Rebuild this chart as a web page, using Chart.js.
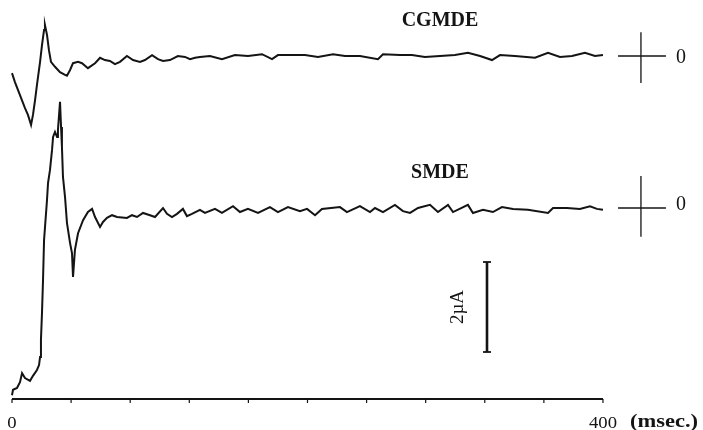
<!DOCTYPE html>
<html>
<head>
<meta charset="utf-8">
<title>CGMDE / SMDE current transients</title>
<script src="https://cdn.jsdelivr.net/npm/chart.js@4.4.1/dist/chart.umd.min.js"></script>
<style>
  html, body { margin: 0; padding: 0; background: #ffffff; }
  #wrap { width: 703px; height: 430px; }
</style>
</head>
<body>
<div id="wrap"><canvas id="c" width="703" height="430"></canvas></div>
<script>
// Time base (ms) and current (µA) of the CGMDE transient
const cgmdeTime = [0, 2.0, 5.4, 8.8, 10.8, 12.9, 14.2, 15.6, 16.9, 19.0, 20.3, 21.7, 22.3, 23.7, 25.0, 26.4,
  29.1, 32.5, 35.9, 37.2, 39.3, 41.3, 44.7, 47.4, 51.4, 56.2, 59.6, 62.9, 66.3, 69.7, 73.1, 77.8, 81.9,
  86.6, 90.0, 94.8, 98.8, 102.2, 106.9, 112.3, 117.1, 120.5, 123.9, 127.2, 134.0, 142.1, 150.9, 159.7,
  169.2, 176.0, 180.0, 188.2, 198.3, 207.1, 217.3, 225.4, 235.5, 247.7, 251.1, 262.6, 270.7, 279.5,
  289.7, 299.8, 308.6, 316.8, 324.9, 330.3, 340.4, 354.0, 362.8, 370.9, 379.0, 387.8, 394.6, 400.0];
const cgmdeCurrent = [-0.38, -0.58, -0.87, -1.16, -1.31, -1.53, -1.31, -0.98, -0.64, -0.13, 0.24, 0.58, 0.69, 0.47, 0.13, -0.13,
  -0.24, -0.36, -0.42, -0.44, -0.31, -0.16, -0.13, -0.16, -0.27, -0.16, -0.04, -0.09, -0.11, -0.18, -0.13, 0.00, -0.09,
  -0.13, -0.09, 0.02, -0.07, -0.11, -0.09, 0.00, -0.02, -0.07, -0.04, -0.02, 0.00, -0.07, 0.02, 0.00,
  0.04, -0.07, 0.02, 0.02, 0.02, -0.02, 0.04, 0.00, 0.00, -0.07, 0.04, 0.02, 0.02, -0.02,
  0.00, 0.02, 0.07, 0.00, -0.09, 0.02, 0.00, -0.04, 0.07, -0.02, 0.00, 0.07, 0.00, 0.02];

// Time base (ms) and current (µA) of the SMDE transient
const smdeTime = [0, 0.7, 3.4, 5.4, 6.8, 8.8, 12.2, 14.2, 16.9, 18.3, 19.0, 19.6, 20.3, 21.0, 21.7, 23.7,
  24.4, 25.7, 27.1, 27.8, 29.1, 30.5, 31.1, 32.5, 33.2, 33.8, 34.5, 35.9, 37.2, 39.3, 40.6, 41.3, 42.6,
  44.7, 48.1, 51.4, 54.2, 56.2, 59.6, 61.6, 64.3, 67.7, 71.1, 77.8, 81.2, 84.6, 88.7, 93.4, 96.8, 102.2,
  104.9, 108.3, 111.7, 115.7, 118.4, 121.8, 127.2, 130.6, 137.4, 142.1, 149.6, 154.3, 159.7, 166.5,
  174.6, 180.0, 186.8, 194.9, 199.7, 205.1, 209.8, 222.0, 226.7, 235.5, 242.3, 245.7, 251.1, 259.2,
  264.6, 269.4, 274.8, 282.9, 288.3, 295.1, 298.5, 308.6, 312.0, 318.8, 325.5, 331.6, 339.1, 349.2,
  362.8, 366.2, 375.6, 384.4, 391.2, 395.9, 400.0];
const smdeCurrent = [-4.16, -4.04, -4.00, -3.87, -3.67, -3.78, -3.84, -3.73, -3.60, -3.49, -3.31, -2.93, -2.33, -1.60, -0.71, 0.18,
  0.56, 0.84, 1.29, 1.58, 1.69, 1.58, 1.73, 2.36, 1.80, 1.36, 0.69, 0.24, -0.33, -0.78, -1.00, -1.53, -0.93,
  -0.56, -0.27, -0.09, -0.02, -0.20, -0.42, -0.31, -0.22, -0.16, -0.20, -0.22, -0.16, -0.20, -0.11, -0.16, -0.20, 0.00,
  -0.13, -0.20, -0.13, -0.02, -0.18, -0.13, -0.04, -0.11, -0.02, -0.11, 0.04, -0.09, -0.02, -0.11,
  0.02, -0.09, 0.02, -0.07, -0.02, -0.16, -0.02, 0.02, -0.09, 0.04, -0.09, 0.00, -0.09, 0.07,
  -0.07, -0.11, 0.00, 0.07, -0.09, 0.07, -0.09, 0.07, -0.11, -0.04, -0.09, 0.02, -0.02, -0.04,
  -0.11, 0.00, 0.00, -0.02, 0.04, -0.02, -0.04];

// Time axis ticks (ms): marks every 40 ms, labels at the ends
const tickTimes = [0, 40, 80, 120, 160, 200, 240, 280, 320, 360, 400];
const tickLabels = ['0', '', '', '', '', '', '', '', '', '', '400'];

// Zero-current reference crosses, one per trace
const crossTime = [410.2, 425.7, 442.6];      // left end, centre, right end (ms)
const cgmdeCrossSpan = [0.53, -0.60];          // µA
const smdeCrossSpan = [0.71, -0.64];           // µA

// 2 µA calibration bar (drawn on the SMDE current scale)
const barTime = 321.5;
const barRange = [-1.2, -3.2];
const barCapHalf = 2.7;                        // ms

const INK = '#141414';
const pts = (xs, ys) => xs.map((x, i) => ({ x: x, y: ys[i] }));
const seg = (x0, y0, x1, y1) => [{ x: x0, y: y0 }, { x: x1, y: y1 }];

const lineSet = (data, axis, width) => ({
  data: data, yAxisID: axis, borderColor: INK, borderWidth: width,
  pointRadius: 0, tension: 0, fill: false, clip: false
});

const datasets = [
  lineSet(pts(cgmdeTime, cgmdeCurrent), 'yC', 2.0),
  lineSet(pts(smdeTime, smdeCurrent), 'yS', 2.0),
  lineSet(seg(crossTime[0], 0, crossTime[2], 0), 'yC', 1.3),
  lineSet(seg(crossTime[1], cgmdeCrossSpan[0], crossTime[1], cgmdeCrossSpan[1]), 'yC', 1.3),
  lineSet(seg(crossTime[0], 0, crossTime[2], 0), 'yS', 1.3),
  lineSet(seg(crossTime[1], smdeCrossSpan[0], crossTime[1], smdeCrossSpan[1]), 'yS', 1.3),
  lineSet(seg(barTime, barRange[0], barTime, barRange[1]), 'yS', 2.6),
  lineSet(seg(barTime - barCapHalf, barRange[0], barTime + barCapHalf, barRange[0]), 'yS', 1.8),
  lineSet(seg(barTime - barCapHalf, barRange[1], barTime + barCapHalf, barRange[1]), 'yS', 1.8)
];

function drawText(ctx, text, x, y, font, align, sx) {
  ctx.save();
  ctx.font = font;
  ctx.fillStyle = INK;
  ctx.textAlign = align;
  ctx.textBaseline = 'alphabetic';
  ctx.translate(x, y);
  ctx.scale(sx || 1, 1);
  ctx.fillText(text, 0, 0);
  ctx.restore();
}

// Time axis, trace names, zero marks and calibration label
const annotations = {
  id: 'annotations',
  afterDatasetsDraw(chart) {
    const ctx = chart.ctx;
    const xs = chart.scales.x, yC = chart.scales.yC, yS = chart.scales.yS;
    const axisY = 399;
    ctx.save();
    ctx.strokeStyle = INK;
    ctx.lineWidth = 2;
    ctx.beginPath();
    ctx.moveTo(xs.getPixelForValue(tickTimes[0]), axisY);
    ctx.lineTo(xs.getPixelForValue(tickTimes[tickTimes.length - 1]), axisY);
    ctx.stroke();
    ctx.lineWidth = 1.2;
    tickTimes.forEach(t => {
      const px = xs.getPixelForValue(t);
      ctx.beginPath();
      ctx.moveTo(px, axisY);
      ctx.lineTo(px, axisY + 4);
      ctx.stroke();
    });
    ctx.restore();

    const serif = '"Liberation Serif", "Times New Roman", serif';
    tickTimes.forEach((t, i) => {
      if (tickLabels[i]) drawText(ctx, tickLabels[i], xs.getPixelForValue(t), 428, '17px ' + serif, 'center', 1.1);
    });
    drawText(ctx, '(msec.)', 630, 427, 'bold 18px ' + serif, 'left', 1.25);

    drawText(ctx, 'CGMDE', 440, 26, 'bold 20px ' + serif, 'center', 1);
    drawText(ctx, 'SMDE', 440, 178, 'bold 20px ' + serif, 'center', 1);

    const zeroX = xs.getPixelForValue(452.8);
    drawText(ctx, '0', zeroX, yC.getPixelForValue(0) + 7, '20px ' + serif, 'center', 1);
    drawText(ctx, '0', zeroX, yS.getPixelForValue(0) + 2, '20px ' + serif, 'center', 1);

    // "2µA" runs upward beside the calibration bar
    ctx.save();
    ctx.translate(xs.getPixelForValue(barTime) - 24, (yS.getPixelForValue(barRange[0]) + yS.getPixelForValue(barRange[1])) / 2);
    ctx.rotate(-Math.PI / 2);
    ctx.font = '19px ' + serif;
    ctx.fillStyle = INK;
    ctx.textAlign = 'center';
    ctx.textBaseline = 'alphabetic';
    ctx.fillText('2µA', 0, 0);
    ctx.restore();
  }
};

new Chart(document.getElementById('c'), {
  type: 'line',
  data: { datasets: datasets },
  options: {
    responsive: false,
    devicePixelRatio: 1,
    animation: false,
    events: [],
    layout: { padding: 0 },
    plugins: { legend: { display: false }, tooltip: { enabled: false }, title: { display: false } },
    scales: {
      x: { type: 'linear', min: -8.12, max: 467.7, display: false },
      yC: { type: 'linear', min: -8.311, max: 1.2444, display: false },
      yS: { type: 'linear', min: -4.9333, max: 4.6222, display: false }
    }
  },
  plugins: [annotations]
});
</script>
</body>
</html>
